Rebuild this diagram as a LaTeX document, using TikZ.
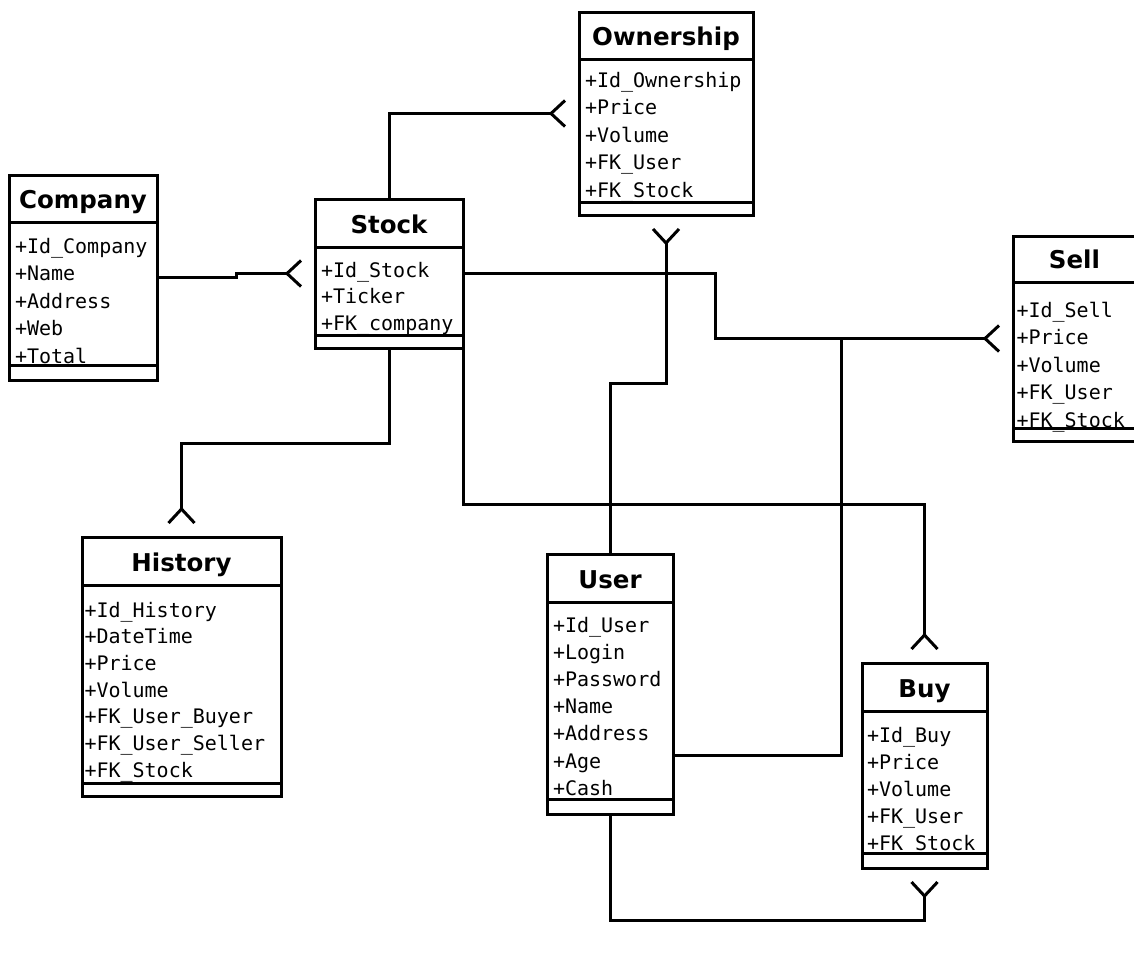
\documentclass[tikz,border=0pt]{standalone}
\usepackage{fontspec}
\setmonofont{DejaVu Sans Mono}
\newfontfamily\titlefont{DejaVu Sans}
\usetikzlibrary{calc}

\tikzset{
  crowfoot/.pic={\draw (14,13) -- (0,0) -- (14,-13);}
}

\begin{document}
\begin{tikzpicture}[x=1pt, y=-1pt, line width=3pt,
    entity/.style={draw, inner sep=0pt, outer sep=0pt},
    boxtitle/.style={font=\titlefont\bfseries\fontsize{24.5}{29}\selectfont, anchor=base, inner sep=0pt},
    boxattr/.style={font=\ttfamily\fontsize{20}{24}\selectfont, anchor=base west, inner sep=0pt}]

    \useasboundingbox (0,0) rectangle (1134,953);

    % Company table
    \node[entity, minimum width=148, minimum height=205] (company) at (83,277.5) {};
    \draw (9,222) -- (157,222);
    \draw (9,365) -- (157,365);
    \node[boxtitle] (company-title) at (83,208) {Company};
    \foreach \f [count=\i] in {Id\_Company,Name,Address,Web,Total}
        \node[boxattr] (company-\i) at (13.5,{253+27.5*(\i-1)}) {+\f};

    % Stock table
    \node[entity, minimum width=148, minimum height=149] (stock) at (389,273.5) {};
    \draw (315,247) -- (463,247);
    \draw (315,335) -- (463,335);
    \node[boxtitle] (stock-title) at (389,233) {Stock};
    \foreach \f [count=\i] in {Id\_Stock,Ticker,FK\_company}
        \node[boxattr] (stock-\i) at (319.5,{277+26.8*(\i-1)}) {+\f};

    % Ownership table
    \node[entity, minimum width=174, minimum height=203] (ownership) at (666,113.5) {};
    \draw (579,59) -- (753,59);
    \draw (579,202) -- (753,202);
    \node[boxtitle] (ownership-title) at (666,45) {Ownership};
    \foreach \f [count=\i] in {Id\_Ownership,Price,Volume,FK\_User,FK\_Stock}
        \node[boxattr] (ownership-\i) at (583.5,{87+27.5*(\i-1)}) {+\f};

    % Sell table
    \node[entity, minimum width=123, minimum height=205] (sell) at (1074.5,338.5) {};
    \draw (1013,282) -- (1136,282);
    \draw (1013,428) -- (1136,428);
    \node[boxtitle] (sell-title) at (1074.5,268) {Sell};
    \foreach \f [count=\i] in {Id\_Sell,Price,Volume,FK\_User,FK\_Stock}
        \node[boxattr] (sell-\i) at (1015,{317+27.5*(\i-1)}) {+\f};

    % History table
    \node[entity, minimum width=199, minimum height=259] (history) at (181.5,666.5) {};
    \draw (82,585) -- (281,585);
    \draw (82,783) -- (281,783);
    \node[boxtitle] (history-title) at (181.5,571) {History};
    \foreach \f [count=\i] in {Id\_History,DateTime,Price,Volume,FK\_User\_Buyer,FK\_User\_Seller,FK\_Stock}
        \node[boxattr] (history-\i) at (83,{617+26.7*(\i-1)}) {+\f};

    % User table
    \node[entity, minimum width=126, minimum height=260] (user) at (610,684) {};
    \draw (547,602) -- (673,602);
    \draw (547,799) -- (673,799);
    \node[boxtitle] (user-title) at (610,588) {User};
    \foreach \f [count=\i] in {Id\_User,Login,Password,Name,Address,Age,Cash}
        \node[boxattr] (user-\i) at (551.5,{632+27.2*(\i-1)}) {+\f};

    % Buy table
    \node[entity, minimum width=125, minimum height=205] (buy) at (924.5,765.5) {};
    \draw (862,711) -- (987,711);
    \draw (862,853) -- (987,853);
    \node[boxtitle] (buy-title) at (924.5,697) {Buy};
    \foreach \f [count=\i] in {Id\_Buy,Price,Volume,FK\_User,FK\_Stock}
        \node[boxattr] (buy-\i) at (865.5,{742+27*(\i-1)}) {+\f};

    % relations
    \draw (company.east) -| ($(company.east)!.5!(stock.west)$) |- ($(stock.west)+(-28,0)$) pic {crowfoot};
    \draw (stock.north) |- ($(ownership.west)+(-28,0)$) pic {crowfoot};
    \draw (stock.east) -- ++(252,0) |- ($(sell.west)+(-28,0)$) coordinate (sellfoot) pic {crowfoot};
    \draw ($(user.east)+(0,71)$) -| ($(sellfoot)+(-144,0)$);
    \draw (user.north) -- ++(0,-171) -| ($(ownership.south)+(0,28)$) pic[rotate=90] {crowfoot};
    \draw (stock.south) -- ++(0,95) -| ($(history.north)+(0,-28)$) pic[rotate=-90] {crowfoot};
    \draw (stock.south east) -- ++(0,156) -| ($(buy.north)+(0,-28)$) pic[rotate=-90] {crowfoot};
    \draw (user.south) -- ++(0,106) -| ($(buy.south)+(0,28)$) pic[rotate=90] {crowfoot};

\end{tikzpicture}
\end{document}
